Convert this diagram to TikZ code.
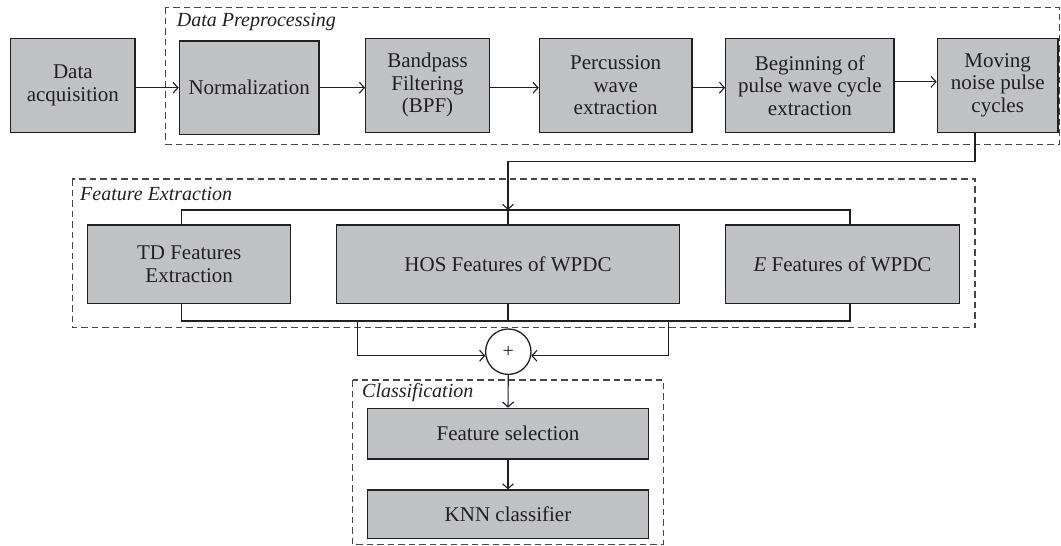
\documentclass[tikz,border=0pt]{standalone}
\usepackage{fontspec}
\setmainfont{Liberation Serif}
\usetikzlibrary{arrows.meta,calc}
\definecolor{boxfill}{RGB}{192,193,196}
\definecolor{ink}{RGB}{35,31,32}
\definecolor{dashc}{RGB}{70,70,72}
\tikzset{
  blk/.style={draw=ink, line width=1.3pt, fill=boxfill, inner sep=0pt, align=center,
    text=ink, font=\fontsize{21}{22.5}\selectfont},
  grp/.style={draw=dashc, line width=1.2pt, dash pattern=on 6.5pt off 4pt},
  grptitle/.style={anchor=west, inner sep=0pt, text=ink, font=\fontsize{20}{22}\selectfont\itshape},
  conn/.style={draw=ink, line width=1.1pt},
  arr/.style={conn, -{Straight Barb[length=5pt,width=11pt,line width=1.1pt]}},
}
\begin{document}
\begin{tikzpicture}[x=1pt,y=-1pt]
\useasboundingbox (0,0) rectangle (1061,546);
% group frames
\draw[grp] (165.7,7.3) rectangle (1059.5,144.3);
\draw[grp] (72.3,179) rectangle (975,327.7);
\draw[grp] (352.7,380) rectangle (663.3,544.3);
\node[grptitle] (tdp) at (176.7,21.7) {Data Preprocessing};
\node[grptitle] (tfe) at (80,194) {Feature Extraction};
\node[grptitle] (tcl) at (362,393) {Classification};
% top row
\node[blk, minimum width=124.3, minimum height=94] (acq) at (72.9,85.3) {Data\\acquisition};
\node[blk, minimum width=139.7, minimum height=93.3] (norm) at (249.2,87.7) {Normalization};
\node[blk, minimum width=123.6, minimum height=94] (bpf) at (427.5,85.3) {Bandpass\\Filtering\\(BPF)};
\node[blk, minimum width=152.7, minimum height=94] (perc) at (615.7,85.3) {Percussion\\wave\\extraction};
\node[blk, minimum width=168.3, minimum height=94] (begin) at (809.9,85.3) {Beginning of\\pulse wave cycle\\extraction};
\node[blk, minimum width=120.7, minimum height=94] (moving) at (997.7,85.3) {Moving\\noise pulse\\cycles};
% feature row
\node[blk, minimum width=203, minimum height=78.3] (td) at (189.2,264.2) {TD Features\\Extraction};
\node[blk, minimum width=342.6, minimum height=78.3] (hos) at (508,264.2) {HOS Features of WPDC};
\node[blk, minimum width=233.6, minimum height=78.3] (e) at (842.5,264.2) {\textit{E} Features of WPDC};
% sum
\node[circle, draw=ink, line width=1.3pt, minimum size=45.4, inner sep=0pt, text=ink,
  font=\fontsize{20}{22}\selectfont] (plus) at (508.3,351.7) {+};
% classification
\node[blk, minimum width=280.6, minimum height=50.7] (fs) at (508,433.7) {Feature selection};
\node[blk, minimum width=280.6, minimum height=48.3] (knn) at (508,514.2) {KNN classifier};
% coordinates
\coordinate (m1) at (975,161.5);
\coordinate (tbus) at (508,210);
\coordinate (tl) at (181.7,210);
\coordinate (tr) at (850,210);
\coordinate (bl) at (181.7,321);
\coordinate (br) at (850,321);
\coordinate (pl) at (357.3,321);
\coordinate (pr) at (668.3,321);
% top arrows
\draw[arr] (acq.east |- norm.west) -- (norm.west);
\draw[arr] (norm.east) -- (norm.east -| bpf.west);
\draw[arr] (bpf.east |- norm.east) -- (perc.west |- norm.east);
\draw[arr] (perc.east |- norm.east) -- (begin.west |- norm.east);
\draw[arr] ($(begin.east)+(0,-3.5)$) -- ($(moving.west)+(0,-3.5)$);
% to feature extraction
\draw[arr] (moving.south -| m1) -- (m1) -| (tbus);
\draw[conn] (tbus) -- (hos.north);
\draw[conn] (td.north -| tl) -- (tl) -- (tr) -- (tr |- e.north);
\draw[conn] (td.south -| bl) -- (bl) -- (br) -- (br |- e.south);
\draw[conn] (hos.south) -- (hos.south |- bl);
% into sum
\draw[arr] (pl) |- (plus.190);
\draw[arr] (pr) |- (plus.350);
\draw[arr] (plus.south) -- (fs.north);
\draw[arr] (fs.south) -- (knn.north);
\end{tikzpicture}
\end{document}
